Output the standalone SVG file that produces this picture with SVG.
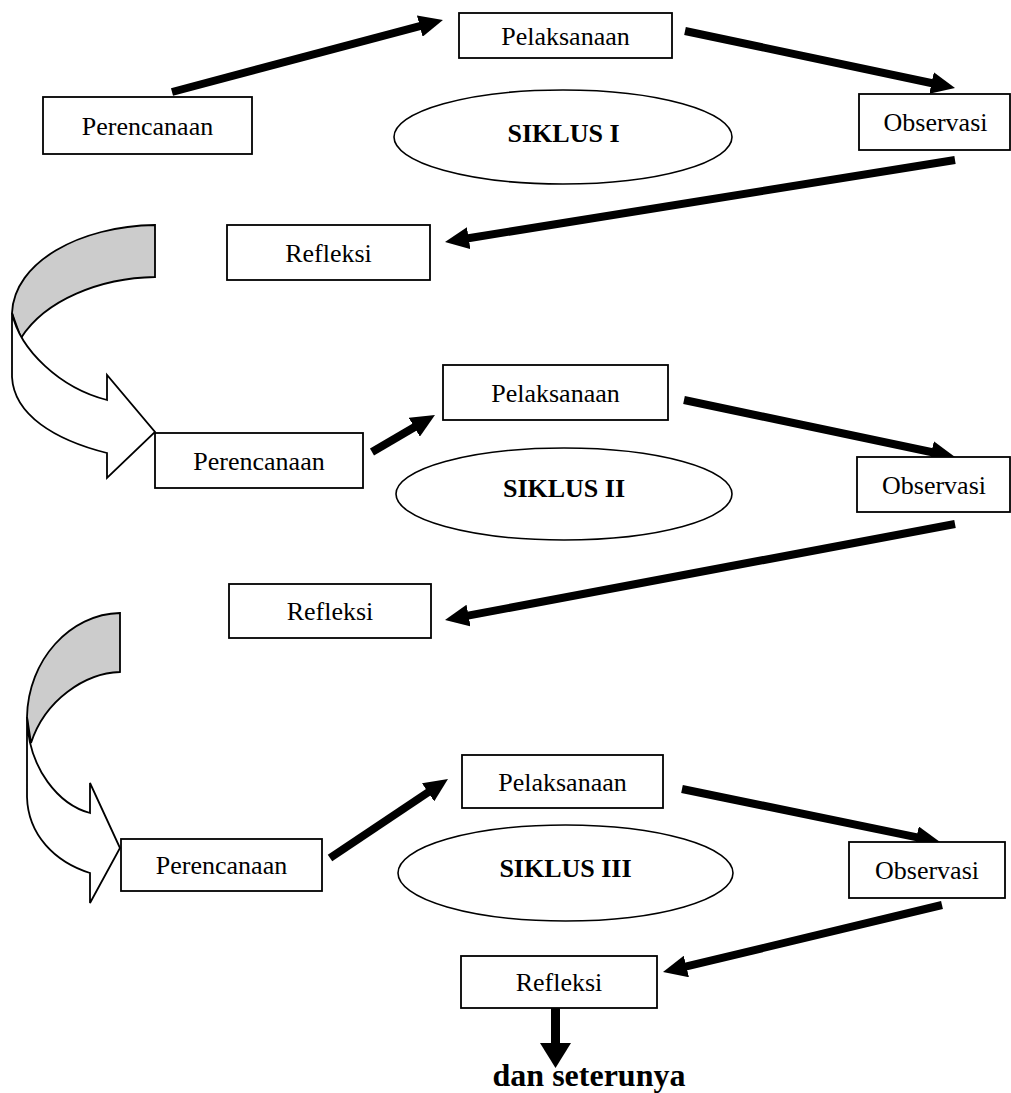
<svg xmlns="http://www.w3.org/2000/svg" width="1011" height="1093" viewBox="0 0 1011 1093">
<style>
.box{fill:#fff;stroke:#000;stroke-width:1.8}
.ell{fill:#fff;stroke:#000;stroke-width:1.6}
.lbl{font-family:"Liberation Serif","Times New Roman",serif;font-size:26px;text-anchor:middle;fill:#000}
.cyc{font-family:"Liberation Serif","Times New Roman",serif;font-size:26px;font-weight:bold;text-anchor:middle;fill:#000}
.big{font-family:"Liberation Serif","Times New Roman",serif;font-size:32px;font-weight:bold;text-anchor:middle;fill:#000}
.arr{fill:none;stroke:#000;stroke-width:8;marker-end:url(#ah)}
.curve{stroke:#000;stroke-width:1.8;stroke-linejoin:miter}
</style>
<defs>
<marker id="ah" markerUnits="userSpaceOnUse" viewBox="0 0 24 22" markerWidth="24" markerHeight="22" refX="2" refY="11" orient="auto">
<path d="M0,0 L24,11 L0,22 Z" fill="#000"/>
</marker>
</defs>
<rect width="1011" height="1093" fill="#fff"/>

<g id="curve1">
<path class="curve" fill="#cccccc" d="M155,225 C80,226 14,262 12,313 L21,338 C45,300 100,278 155,277 Z"/>
<path class="curve" fill="#fff" d="M12,313 L12,377 C14,415 55,440 107,453 L107,478 L155,432 L107,375 L107,400 C60,388 20,350 12,313 Z"/>
</g>
<g id="curve2">
<path class="curve" fill="#cccccc" d="M120,613 C70,614 28,660 27,717 L31,743 C45,700 85,673 120,672 Z"/>
<path class="curve" fill="#fff" d="M27,717 L27,797 C28,835 55,862 90,873 L90,903 L120,848 L90,783 L90,813 C60,805 28,770 27,717 Z"/>
</g>

<g id="connectors">
<path class="arr" d="M172,92 L421.7,25.6"/>
<path class="arr" d="M685,31 L933.5,83.5"/>
<path class="arr" d="M955,160 L466.7,238.5"/>
<path class="arr" d="M372,452 L416,426.2"/>
<path class="arr" d="M684,400 L933.5,452.5"/>
<path class="arr" d="M955,524 L466.6,615.9"/>
<path class="arr" d="M330,858 L429.7,791.2"/>
<path class="arr" d="M682,789 L918.5,837.6"/>
<path class="arr" d="M942,905 L684.4,966.9"/>
<path fill="none" stroke="#000" stroke-width="9" d="M555.5,1000 L555.5,1045"/>
<path fill="#000" d="M540,1043 L571,1043 L555.5,1068 Z"/>
</g>

<g id="perencanaan1"><rect class="box" x="43" y="97" width="209" height="57"/><text class="lbl" x="147.5" y="134.5">Perencanaan</text></g>
<g id="pelaksanaan1"><rect class="box" x="459" y="13" width="213" height="45"/><text class="lbl" x="565.5" y="44.5">Pelaksanaan</text></g>
<g id="siklus1"><ellipse class="ell" cx="563" cy="137" rx="169" ry="47"/><text class="cyc" x="563.5" y="142">SIKLUS I</text></g>
<g id="observasi1"><rect class="box" x="859" y="94" width="151" height="56"/><text class="lbl" x="935.5" y="131">Observasi</text></g>
<g id="refleksi1"><rect class="box" x="227" y="225" width="203" height="55"/><text class="lbl" x="328.5" y="261.5">Refleksi</text></g>

<g id="perencanaan2"><rect class="box" x="155" y="433" width="208" height="55"/><text class="lbl" x="259" y="469.5">Perencanaan</text></g>
<g id="pelaksanaan2"><rect class="box" x="443" y="365" width="225" height="55"/><text class="lbl" x="555.5" y="401.5">Pelaksanaan</text></g>
<g id="siklus2"><ellipse class="ell" cx="564" cy="494" rx="168" ry="46"/><text class="cyc" x="564" y="497">SIKLUS II</text></g>
<g id="observasi2"><rect class="box" x="857" y="457" width="153" height="55"/><text class="lbl" x="934" y="493.5">Observasi</text></g>
<g id="refleksi2"><rect class="box" x="229" y="584" width="202" height="54"/><text class="lbl" x="330" y="620">Refleksi</text></g>

<g id="perencanaan3"><rect class="box" x="121" y="839" width="201" height="52"/><text class="lbl" x="221.5" y="874">Perencanaan</text></g>
<g id="pelaksanaan3"><rect class="box" x="462" y="755" width="201" height="53"/><text class="lbl" x="562.5" y="790.5">Pelaksanaan</text></g>
<g id="siklus3"><ellipse class="ell" cx="565.5" cy="873" rx="167.5" ry="48"/><text class="cyc" x="565.5" y="877">SIKLUS III</text></g>
<g id="observasi3"><rect class="box" x="849" y="842" width="156" height="56"/><text class="lbl" x="927" y="879">Observasi</text></g>
<g id="refleksi3"><rect class="box" x="461" y="956" width="196" height="52"/><text class="lbl" x="559" y="991">Refleksi</text></g>

<g id="label-end"><text class="big" x="589" y="1086">dan seterunya</text></g>
</svg>
